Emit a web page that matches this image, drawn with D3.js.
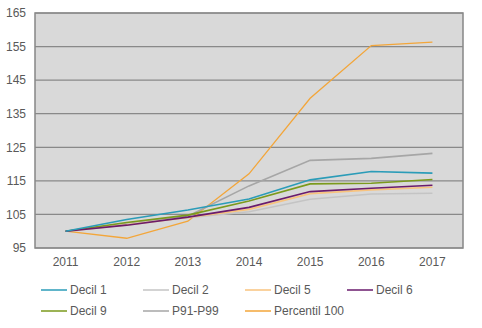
<!DOCTYPE html>
<html>
<head>
<meta charset="utf-8">
<script src="https://cdn.jsdelivr.net/npm/d3@7"></script>
<style>
  body { margin: 0; background: #fff; }
  text { font-family: "Liberation Sans", Arial, sans-serif; }
</style>
</head>
<body>
<div id="chart"></div>
<script>
const years = ["2011", "2012", "2013", "2014", "2015", "2016", "2017"]
const yTicks = [95, 105, 115, 125, 135, 145, 155, 165]

const decil1 = [100, 103.5, 106.3, 109.6, 115.3, 117.8, 117.3]
const decil2 = [100, 102.2, 104.0, 105.8, 109.5, 111.1, 111.3]
const decil5 = [100, 101.9, 104.1, 106.5, 111.2, 112.3, 113.1]
const decil6 = [100, 101.8, 104.2, 107.1, 111.8, 112.8, 113.7]
const decil9 = [100, 102.6, 104.8, 109.0, 114.1, 114.3, 115.4]
const p91p99 = [100, 102.3, 104.5, 113.5, 121.1, 121.7, 123.2]
const p100 = [100, 97.9, 103.0, 117.1, 139.6, 155.3, 156.3]

const seriesNames = ["Decil 1", "Decil 2", "Decil 5", "Decil 6", "Decil 9", "P91-P99", "Percentil 100"]
const seriesValues = [decil1, decil2, decil5, decil6, decil9, p91p99, p100]
const seriesColors = ["#2b9cb8", "#c4c4c4", "#f8c37e", "#6a1b6c", "#7b9a1c", "#a6a6a6", "#f3a63a"]

// draw order: lighter lines underneath, as in the original
const drawOrder = [6, 5, 1, 2, 4, 3, 0]

const width = 482
const height = 328
const margin = { top: 13, right: 19, bottom: 80, left: 35 }

const svg = d3.select("#chart")
  .append("svg")
  .attr("width", width)
  .attr("height", height)

const x = d3.scaleBand()
  .domain(years)
  .range([margin.left, width - margin.right])

const y = d3.scaleLinear()
  .domain([95, 165])
  .range([height - margin.bottom, margin.top])

// plot background
svg.append("rect")
  .attr("x", margin.left)
  .attr("y", margin.top)
  .attr("width", width - margin.left - margin.right)
  .attr("height", height - margin.top - margin.bottom)
  .attr("fill", "#d9d9d9")
  .attr("stroke", "#868686")
  .attr("stroke-width", 1.5)

// gridlines
svg.selectAll(".grid")
  .data(yTicks)
  .enter()
  .append("line")
  .attr("x1", margin.left)
  .attr("x2", width - margin.right)
  .attr("y1", d => y(d))
  .attr("y2", d => y(d))
  .attr("stroke", "#898989")
  .attr("stroke-width", 1.2)

// y axis labels
const yAxis = svg.append("g")
  .attr("transform", `translate(${margin.left},0)`)
  .call(d3.axisLeft(y).tickValues(yTicks).tickSize(0).tickPadding(9))
yAxis.select(".domain").remove()
yAxis.selectAll("text")
  .attr("fill", "#595959")
  .style("font-size", "12px")
  .style("font-family", "Liberation Sans, Arial, sans-serif")

// x axis labels
const xAxis = svg.append("g")
  .attr("transform", `translate(0,${height - margin.bottom})`)
  .call(d3.axisBottom(x).tickSize(0).tickPadding(9))
xAxis.select(".domain").remove()
xAxis.selectAll("text")
  .attr("fill", "#595959")
  .style("font-size", "12px")
  .style("font-family", "Liberation Sans, Arial, sans-serif")

const line = d3.line()
  .x((d, i) => x(years[i]) + x.bandwidth() / 2)
  .y(d => y(d))

drawOrder.forEach(i => {
  svg.append("path")
    .datum(seriesValues[i])
    .attr("fill", "none")
    .attr("stroke", seriesColors[i])
    .attr("stroke-width", i === 6 ? 1.3 : 1.6)
    .attr("d", line)
})

// legend
const legendCols = [41, 143, 245, 347]
const legendRows = [290, 311]

const legend = svg.selectAll(".legend")
  .data(seriesNames)
  .enter()
  .append("g")
  .attr("class", "legend")
  .attr("transform", (d, i) => `translate(${legendCols[i % 4]},${legendRows[Math.floor(i / 4)]})`)

legend.append("line")
  .attr("x1", 0)
  .attr("x2", 26)
  .attr("y1", 0)
  .attr("y2", 0)
  .attr("stroke", (d, i) => seriesColors[i])
  .attr("stroke-width", 1.5)

legend.append("text")
  .attr("x", 29)
  .attr("y", 0)
  .attr("dy", "0.35em")
  .attr("fill", "#595959")
  .style("font-size", "12px")
  .text(d => d)
</script>
</body>
</html>
